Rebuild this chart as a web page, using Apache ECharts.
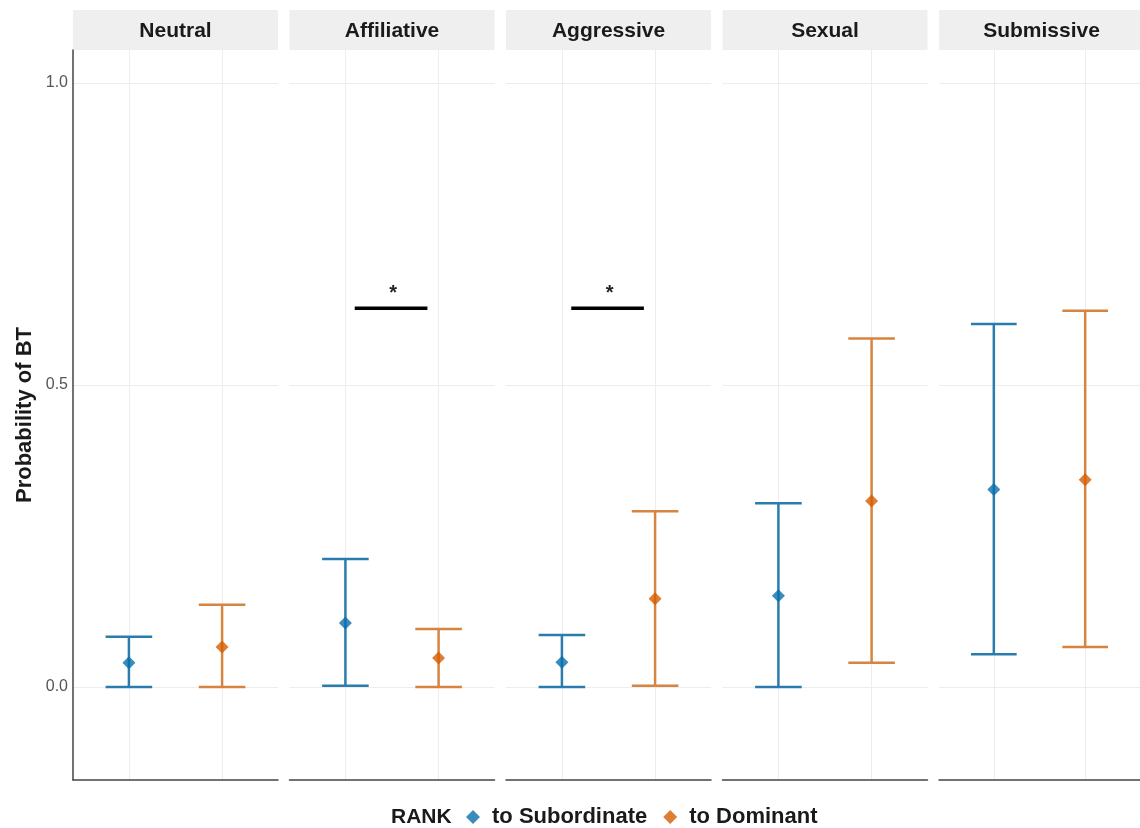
<!DOCTYPE html>
<html>
<head>
<meta charset="utf-8">
<script src="https://cdn.jsdelivr.net/npm/echarts@6/dist/echarts.min.js"></script>
<style>html,body{margin:0;padding:0;background:#fff}#c{width:1140px;height:828px}</style>
</head>
<body>
<div id="c"></div>
<script>
const facets = ['Neutral', 'Affiliative', 'Aggressive', 'Sexual', 'Submissive'];
const groups = ['to Subordinate', 'to Dominant'];
const subMean  = [0.040, 0.106, 0.041, 0.151, 0.327];
const subLower = [0.000, 0.002, 0.000, 0.000, 0.054];
const subUpper = [0.083, 0.212, 0.086, 0.304, 0.601];
const domMean  = [0.066, 0.048, 0.146, 0.308, 0.343];
const domLower = [0.000, 0.000, 0.002, 0.040, 0.066];
const domUpper = [0.136, 0.096, 0.291, 0.577, 0.623];
const yTicks = [0, 0.5, 1.0];
const sigFacets = ['Affiliative', 'Aggressive'];
const sigY = 0.627;
const sigFrom = 1.1, sigTo = 1.88;
const sigLabel = '*';

const FONT = '"Liberation Sans", Arial, sans-serif';
const blueP = '#0a6fad', orangeP = '#d55e00';
const blueL = '#2a7cad', orangeL = '#d6843f';
const yMin = -0.154, yMax = 1.0546;
const panelLeft = 73, panelStep = 216.5, panelW = 205, panelTop = 50, panelH = 730;

const grids = [], xAxes = [], yAxes = [], series = [], graphics = [];
facets.forEach((f, i) => {
  const left = panelLeft + i * panelStep;
  grids.push({left: left, top: panelTop, width: panelW, height: panelH});
  xAxes.push({type: 'value', gridIndex: i, min: 0.4, max: 2.6,
    axisLine: {show: true, onZero: false, lineStyle: {color: '#444', width: 1.5}},
    axisTick: {show: false}, axisLabel: {show: false}, splitLine: {show: false}});
  yAxes.push({type: 'value', gridIndex: i, min: yMin, max: yMax,
    name: i === 0 ? 'Probability of BT' : '', nameLocation: 'middle', nameGap: 37,
    nameTextStyle: {fontFamily: FONT, fontWeight: 'bold', fontSize: 22, color: '#1a1a1a'},
    axisLine: {show: i === 0, lineStyle: {color: '#444', width: 1.5}},
    axisTick: {show: false, customValues: yTicks},
    axisLabel: {show: i === 0, customValues: yTicks, formatter: v => v.toFixed(1),
      fontFamily: FONT, fontSize: 16, color: '#555', margin: 5},
    splitLine: {show: false}});
  graphics.push({type: 'rect', shape: {x: left, y: 10, width: panelW, height: 40},
    style: {fill: '#efefef'}, z: 0});
  graphics.push({type: 'text', x: left + panelW / 2, y: 31,
    style: {text: f, fontFamily: FONT, fontWeight: 'bold', fontSize: 21, fill: '#1a1a1a',
      textAlign: 'center', textVerticalAlign: 'middle'}});

  // grid lines
  const gl = {color: '#ededed', width: 1, type: 'solid'};
  series.push({type: 'line', xAxisIndex: i, yAxisIndex: i, data: [], silent: true,
    markLine: {silent: true, symbol: 'none', label: {show: false}, lineStyle: gl, z: 0,
      data: [{xAxis: 1}, {xAxis: 2}].concat(yTicks.map(t => ({yAxis: t})))}});

  // error bars
  const eb = [[1, subLower[i], subUpper[i], 0], [2, domLower[i], domUpper[i], 1]];
  series.push({type: 'custom', xAxisIndex: i, yAxisIndex: i, data: eb, silent: true, z: 3,
    renderItem: (params, api) => {
      const x = api.value(0), lo = api.value(1), hi = api.value(2), g = api.value(3);
      const col = g === 0 ? blueL : orangeL;
      const pLo = api.coord([x, lo]), pHi = api.coord([x, hi]);
      const l = api.coord([x - 0.25, lo])[0], r = api.coord([x + 0.25, lo])[0];
      const st = {stroke: col, lineWidth: 2.5};
      return {type: 'group', children: [
        {type: 'line', shape: {x1: pLo[0], y1: pLo[1], x2: pHi[0], y2: pHi[1]}, style: st},
        {type: 'line', shape: {x1: l, y1: pLo[1], x2: r, y2: pLo[1]}, style: st},
        {type: 'line', shape: {x1: l, y1: pHi[1], x2: r, y2: pHi[1]}, style: st}
      ]};
    }});
  series.push({type: 'scatter', name: groups[0], xAxisIndex: i, yAxisIndex: i, z: 5,
    symbol: 'diamond', symbolSize: 13, itemStyle: {color: blueP},
    data: [[1, subMean[i]]]});
  series.push({type: 'scatter', name: groups[1], xAxisIndex: i, yAxisIndex: i, z: 5,
    symbol: 'diamond', symbolSize: 13, itemStyle: {color: orangeP},
    data: [[2, domMean[i]]]});

  if (sigFacets.includes(f)) {
    series.push({type: 'custom', xAxisIndex: i, yAxisIndex: i, silent: true, z: 6,
      data: [[sigFrom, sigTo, sigY]],
      renderItem: (params, api) => {
        const a = api.coord([api.value(0), api.value(2)]);
        const b = api.coord([api.value(1), api.value(2)]);
        return {type: 'group', children: [
          {type: 'line', shape: {x1: a[0], y1: a[1], x2: b[0], y2: b[1]},
            style: {stroke: '#000', lineWidth: 3.5}},
          {type: 'text', x: (a[0] + b[0]) / 2 + 2, y: a[1] - 5,
            style: {text: sigLabel, fontFamily: FONT, fontWeight: 'bold', fontSize: 20,
              fill: '#222', textAlign: 'center', textVerticalAlign: 'bottom'}}
        ]};
      }});
  }
});

graphics.push({type: 'text', x: 391, y: 817,
  style: {text: 'RANK', fontFamily: FONT, fontWeight: 'bold', fontSize: 21, fill: '#1a1a1a',
    textVerticalAlign: 'middle'}});

const chart = echarts.init(document.getElementById('c'), null, {renderer: 'canvas'});
chart.setOption({
  animation: false,
  backgroundColor: '#fff',
  grid: grids, xAxis: xAxes, yAxis: yAxes, series: series,
  graphic: graphics,
  legend: {data: groups, left: 466, top: 806, icon: 'diamond', itemWidth: 14, itemHeight: 14,
    itemGap: 16, selectedMode: false, padding: 0,
    textStyle: {fontFamily: FONT, fontWeight: 'bold', fontSize: 22, color: '#1a1a1a', padding: [0, 0, 0, 7]}}
});
</script>
</body>
</html>
